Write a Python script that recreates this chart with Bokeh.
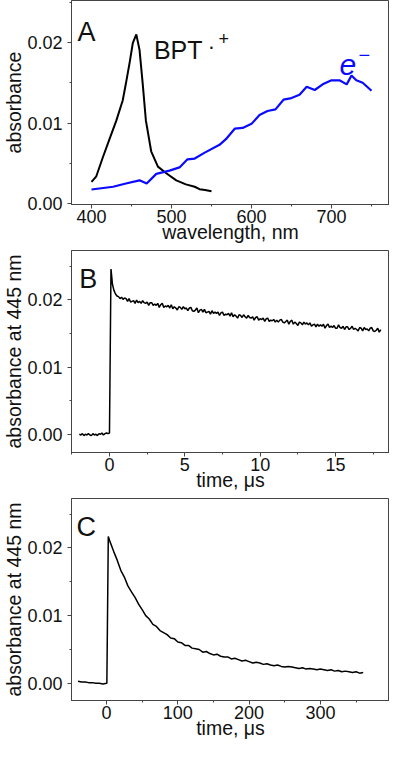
from bokeh.plotting import figure
from bokeh.layouts import column
from bokeh.models import Range1d, SingleIntervalTicker, NumeralTickFormatter, Label
from bokeh.embed import file_html
from bokeh.resources import INLINE

FONT = "Liberation Sans"

# ---------------- Panel A: spectra ----------------
wl_bpt = [400, 406, 414, 422.5, 431, 439, 443, 447.5, 451.6, 456, 460, 464, 468, 474.6,
          483, 493, 506, 518, 529, 535, 542, 550]
abs_bpt = [0.0027, 0.0034, 0.0057, 0.0080, 0.0103, 0.0128, 0.0149, 0.0174, 0.0199, 0.0210,
           0.0191, 0.0149, 0.0103, 0.0065, 0.0046, 0.0038, 0.0029, 0.0024, 0.0021, 0.0018,
           0.0017, 0.00155]

wl_e = [400, 427, 443, 460, 469, 481, 497.5, 510, 520, 529, 541, 560, 568, 579, 589, 600,
        610, 620, 630, 640, 650, 660, 669, 679, 689, 700, 710, 719, 725, 731, 739, 750]
abs_e = [0.00176, 0.0021, 0.0025, 0.0029, 0.0025, 0.0037, 0.0041, 0.0045, 0.0055, 0.0056,
         0.0063, 0.0073, 0.0080, 0.0093, 0.0094, 0.0099, 0.0110, 0.0115, 0.0117, 0.0129,
         0.0131, 0.0135, 0.0145, 0.0141, 0.0148, 0.0153, 0.0153, 0.0148, 0.0159, 0.0153,
         0.0150, 0.0140]

# ---------------- Panel B: 445 nm kinetics, microsecond scale ----------------
tB_start, tB_step = -2.0, 0.1
absB = [
    0.0000, -0.0001, 0.0001, -0.0002, 0.0000, -0.0001, 0.0001, -0.0001, -0.0002, 0.0001,
    -0.0001, 0.0000, -0.0002, 0.0001, 0.0000, 0.0002, -0.0001, 0.0001, 0.0002, 0.0001, 0.0002,
    0.0246, 0.0223, 0.0214, 0.0209, 0.0206, 0.0205, 0.0202, 0.0204, 0.0201, 0.0203,
    0.0202, 0.0198, 0.0202, 0.0197, 0.0198, 0.0199, 0.0195, 0.0200, 0.0196, 0.0198,
    0.0195, 0.0199, 0.0196, 0.0195, 0.0197, 0.0192, 0.0196, 0.0196, 0.0192, 0.0194,
    0.0192, 0.0195, 0.0189, 0.0193, 0.0195, 0.0189, 0.0191, 0.0190, 0.0192, 0.0188,
    0.0193, 0.0187, 0.0190, 0.0188, 0.0185, 0.0190, 0.0189, 0.0186, 0.0190, 0.0187,
    0.0188, 0.0184, 0.0188, 0.0189, 0.0184, 0.0183, 0.0185, 0.0188, 0.0181, 0.0185,
    0.0186, 0.0182, 0.0186, 0.0181, 0.0182, 0.0183, 0.0179, 0.0184, 0.0180, 0.0182,
    0.0180, 0.0182, 0.0177, 0.0181, 0.0182, 0.0177, 0.0179, 0.0178, 0.0180, 0.0176,
    0.0181, 0.0175, 0.0178, 0.0176, 0.0173, 0.0178, 0.0177, 0.0174, 0.0178, 0.0175,
    0.0173, 0.0177, 0.0174, 0.0173, 0.0175, 0.0170, 0.0174, 0.0175, 0.0170, 0.0172,
    0.0171, 0.0173, 0.0168, 0.0172, 0.0173, 0.0168, 0.0170, 0.0169, 0.0171, 0.0167,
    0.0170, 0.0167, 0.0170, 0.0171, 0.0167, 0.0166, 0.0168, 0.0170, 0.0164, 0.0168,
    0.0170, 0.0164, 0.0167, 0.0165, 0.0162, 0.0167, 0.0166, 0.0163, 0.0167, 0.0164,
    0.0166, 0.0163, 0.0166, 0.0161, 0.0163, 0.0164, 0.0160, 0.0164, 0.0161, 0.0163,
    0.0161, 0.0164, 0.0158, 0.0162, 0.0164, 0.0159, 0.0161, 0.0159, 0.0162, 0.0158,
    0.0158, 0.0163, 0.0159, 0.0158, 0.0161, 0.0156, 0.0160, 0.0160, 0.0156, 0.0158,
    0.0161, 0.0156, 0.0158, 0.0156, 0.0154, 0.0159, 0.0158, 0.0154, 0.0159, 0.0156,
    0.0157, 0.0154, 0.0158, 0.0159, 0.0154, 0.0153, 0.0155, 0.0158, 0.0152, 0.0156,
]
tB = [round(tB_start + tB_step * i, 2) for i in range(len(absB))]

# ---------------- Panel C: 445 nm kinetics, long time scale ----------------
tC = [-40, -35, -30, -25, -20, -15, -10, -5, 0, 0.5, 2.5,
      5, 10, 15, 20, 25, 30, 35, 40, 45, 50, 55, 60, 65, 70, 75, 80, 85, 90, 95, 100,
      105, 110, 115, 120, 125, 130, 135, 140, 145, 150, 155, 160, 165, 170, 175, 180,
      185, 190, 195, 200, 205, 210, 215, 220, 225, 230, 235, 240, 245, 250, 255, 260,
      265, 270, 275, 280, 285, 290, 295, 300, 305, 310, 315, 320, 325, 330, 335, 340,
      345, 350, 355, 360]
absC = [0.0003, 0.0002, 0.0002, 0.0001, 0.0001, 0.0000, 0.0000, -0.0001, 0.0000, 0.0000, 0.0217,
        0.0209, 0.0195, 0.0182, 0.0167, 0.0157, 0.0144, 0.0135, 0.0127, 0.0117, 0.0109,
        0.0100, 0.0095, 0.0087, 0.0084, 0.0078, 0.0075, 0.0072, 0.0067, 0.0066, 0.0061,
        0.0060, 0.0056, 0.0056, 0.0052, 0.0051, 0.0050, 0.0046, 0.0047, 0.0044, 0.0042,
        0.0043, 0.0040, 0.0039, 0.0039, 0.0036, 0.0037, 0.0035, 0.0033, 0.0034, 0.0032,
        0.0030, 0.0031, 0.0030, 0.0028, 0.0029, 0.0027, 0.0026, 0.0027, 0.0025, 0.0024,
        0.0025, 0.0024, 0.0023, 0.0022, 0.0023, 0.0021, 0.0022, 0.0021, 0.0020, 0.0021,
        0.0020, 0.0019, 0.0020, 0.0018, 0.0019, 0.0017, 0.0018, 0.0017, 0.0016, 0.0017,
        0.0015, 0.0016]

FRAME = "#444444"


def make_fig(height, fw, xr, yr, xint, yint, xlabel, ylabel, bt, ylab_off):
    p = figure(frame_width=fw, height=height, x_range=Range1d(*xr), y_range=Range1d(*yr),
               output_backend="svg", toolbar_location=None,
               min_border_left=0, min_border_top=bt, min_border_right=0, min_border_bottom=0)
    p.grid.visible = False
    p.outline_line_color = FRAME
    p.outline_line_width = 1
    p.xaxis.ticker = SingleIntervalTicker(interval=xint, num_minor_ticks=2)
    p.yaxis.ticker = SingleIntervalTicker(interval=yint, num_minor_ticks=2)
    p.yaxis.formatter = NumeralTickFormatter(format="0.00")
    for ax in (p.xaxis[0], p.yaxis[0]):
        ax.axis_line_color = FRAME
        ax.major_tick_line_color = FRAME
        ax.minor_tick_line_color = FRAME
        ax.major_tick_in = 0
        ax.major_tick_out = 4
        ax.minor_tick_in = 0
        ax.minor_tick_out = 2
        ax.major_label_text_font = FONT
        ax.major_label_text_font_size = "18px"
        ax.major_label_text_color = "#111111"
        ax.major_label_text_line_height = 1.0
        ax.axis_label_text_font = FONT
        ax.axis_label_text_font_size = "19.5px"
        ax.axis_label_text_font_style = "normal"
        ax.axis_label_text_color = "#111111"
        ax.axis_label_text_line_height = 1.0
    p.xaxis.major_label_standoff = 1
    p.xaxis.axis_label_standoff = -5
    p.yaxis.major_label_standoff = 5
    p.yaxis.axis_label_standoff = ylab_off
    p.xaxis.axis_label = xlabel
    p.yaxis.axis_label = ylabel
    return p


def add_text(p, x, y, text, size, color="#111111", style="normal", align="left"):
    p.add_layout(Label(x=x, y=y, text=text, text_font=FONT, text_font_size=size,
                       text_color=color, text_font_style=style, text_align=align,
                       text_baseline="alphabetic"))


# Panel A
pA = make_fig(245, 318, (375, 772.5), (-0.0001, 0.0252), 100, 0.01,
              "wavelength, nm", "absorbance", 0, -1)
pA.line(wl_bpt, abs_bpt, line_color="black", line_width=2)
pA.line(wl_e, abs_e, line_color="#0a0aff", line_width=2.2)
add_text(pA, 382.5, 0.02126, "A", "27px")
add_text(pA, 478, 0.0191, "BPT", "25px")
add_text(pA, 550, 0.0195, "·", "22px", align="center")
add_text(pA, 558.75, 0.0205, "+", "18px")
add_text(pA, 710, 0.0172, "e", "30px", color="#0a0aff", style="italic")
add_text(pA, 733.75, 0.0185, "−", "20px", color="#0a0aff")

# Panel B
pB = make_fig(248, 318, (-2.52, 18.58), (-0.00271, 0.02737), 5, 0.01,
              "time, μs", "absorbance at 445 nm", 5, -1)
pB.line(tB, absB, line_color="black", line_width=1.5)
add_text(pB, -2.0, 0.02316, "B", "27px")

# Panel C
pC = make_fig(248, 318, (-49.1, 396.9), (-0.00254, 0.02731), 100, 0.01,
              "time, μs", "absorbance at 445 nm", 5, -1)
pC.line(tC, absC, line_color="black", line_width=1.5)
add_text(pC, -42, 0.0231, "C", "27px")

layout = column(pA, pB, pC, spacing=0)
open("out.html", "w").write(file_html(layout, INLINE))
